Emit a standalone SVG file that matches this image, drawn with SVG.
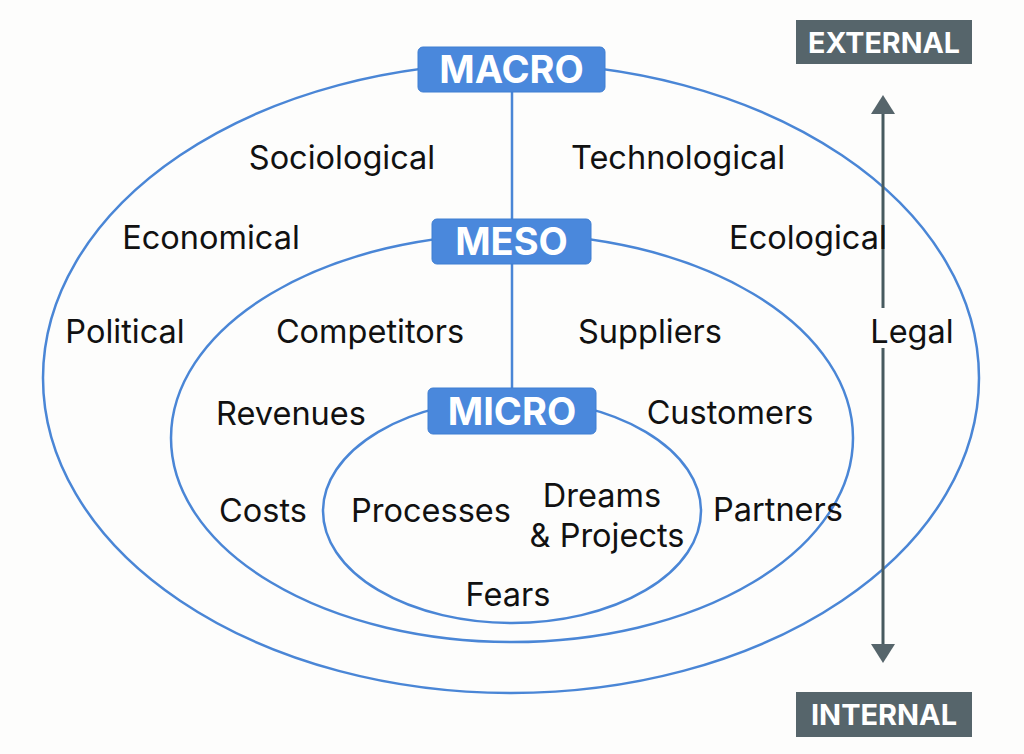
<svg xmlns="http://www.w3.org/2000/svg" width="1024" height="754" viewBox="0 0 1024 754">
<style>
.bg{fill:#fdfdfc}
.ring{fill:none;stroke:#4a86d6;stroke-width:2.5}
.conn{stroke:#4a86d6;stroke-width:2.5;fill:none}
.box{fill:#4a88dc;stroke:#3f7ed2;stroke-width:1}
.boxt{font-family:Inter,"Noto Sans","Liberation Sans",sans-serif;font-weight:700;font-size:38px;fill:#ffffff;text-anchor:middle}
.tag{fill:#56656b}
.tagt{font-family:Inter,"Noto Sans","Liberation Sans",sans-serif;font-weight:700;font-size:28px;fill:#ffffff;text-anchor:middle}
.lbl{font-family:Inter,"Noto Sans","Liberation Sans",sans-serif;font-size:32.5px;fill:#111111;text-anchor:middle}
.axis{stroke:#475a5f;stroke-width:3;fill:none}
</style>
<defs>
<marker id="head" markerUnits="userSpaceOnUse" markerWidth="24" markerHeight="26" refX="0" refY="12" orient="auto-start-reverse" viewBox="0 0 24 24">
<path d="M0,0 L19,12 L0,24 z" fill="#56656b"/>
</marker>
</defs>
<rect class="bg" x="0" y="0" width="1024" height="754"/>

<g id="rings">
<ellipse class="ring" cx="511" cy="378" rx="468" ry="315"/>
<ellipse class="ring" cx="512" cy="438" rx="341" ry="204"/>
<ellipse class="ring" cx="512" cy="511" rx="189" ry="112"/>
</g>

<g id="connectors">
<line class="conn" x1="512" y1="92" x2="512" y2="219"/>
<line class="conn" x1="512" y1="264" x2="512" y2="388"/>
<line class="axis" x1="883" y1="114" x2="883" y2="308" marker-start="url(#head)"/>
<line class="axis" x1="883" y1="348" x2="883" y2="644" marker-end="url(#head)"/>
</g>

<g id="macro">
<rect class="box" x="418" y="47" width="187" height="45" rx="5"/>
<text class="boxt" x="511.5" y="83">MACRO</text>
</g>
<g id="meso">
<rect class="box" x="432" y="219" width="159" height="45" rx="5"/>
<text class="boxt" x="511.5" y="255">MESO</text>
</g>
<g id="micro">
<rect class="box" x="428" y="388" width="168" height="46" rx="5"/>
<text class="boxt" x="512" y="425">MICRO</text>
</g>

<g id="external">
<rect class="tag" x="796" y="20" width="176" height="44"/>
<text class="tagt" x="884" y="53" textLength="152" lengthAdjust="spacingAndGlyphs">EXTERNAL</text>
</g>
<g id="internal">
<rect class="tag" x="796" y="692" width="176" height="45"/>
<text class="tagt" x="884" y="725" textLength="146" lengthAdjust="spacingAndGlyphs">INTERNAL</text>
</g>

<g id="macro-labels">
<text class="lbl" x="342" y="169">Sociological</text>
<text class="lbl" x="678" y="169">Technological</text>
<text class="lbl" x="211" y="249">Economical</text>
<text class="lbl" x="808" y="249">Ecological</text>
<text class="lbl" x="125" y="343">Political</text>
<text class="lbl" x="912" y="343">Legal</text>
</g>
<g id="meso-labels">
<text class="lbl" x="370" y="343">Competitors</text>
<text class="lbl" x="650" y="343">Suppliers</text>
<text class="lbl" x="291" y="425">Revenues</text>
<text class="lbl" x="730" y="424">Customers</text>
<text class="lbl" x="263" y="522">Costs</text>
<text class="lbl" x="778" y="521">Partners</text>
</g>
<g id="micro-labels">
<text class="lbl" x="431" y="522">Processes</text>
<text class="lbl" x="602" y="507">Dreams</text>
<text class="lbl" x="607" y="547">&amp; Projects</text>
<text class="lbl" x="508" y="606">Fears</text>
</g>
</svg>
